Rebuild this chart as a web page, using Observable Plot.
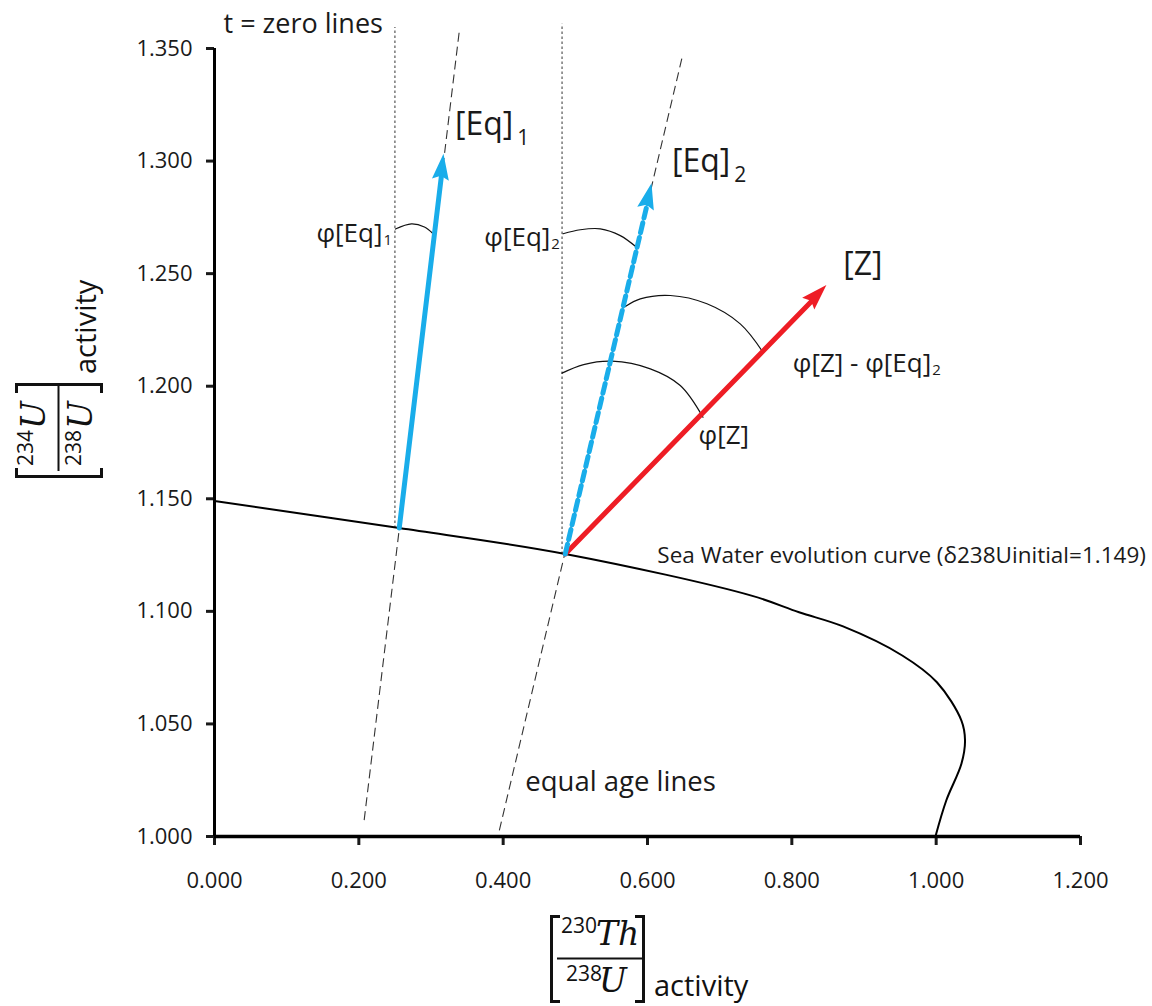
<!DOCTYPE html>
<html>
<head>
<meta charset="utf-8">
<script src="https://cdn.jsdelivr.net/npm/d3@7"></script>
<script src="https://cdn.jsdelivr.net/npm/@observablehq/plot@0.6"></script>
<style>
  body { margin: 0; background: #fff; }
  #chart { width: 1152px; height: 1006px; }
</style>
</head>
<body>
<div id="chart"></div>
<script>
// ---- tick values -------------------------------------------------------
const xTicks = [0, 0.2, 0.4, 0.6, 0.8, 1.0, 1.2];
const yTicks = [1.0, 1.05, 1.1, 1.15, 1.2, 1.25, 1.3, 1.35];

// ---- sea water evolution curve (230Th/238U, 234U/238U) ------------------
const seaX = [0, 0.256, 0.486, 0.744, 0.810, 0.871, 0.953, 1.001, 1.035, 1.040, 1.035, 1.014, 0.999];
const seaY = [1.149, 1.137, 1.1255, 1.107, 1.0996, 1.0933, 1.0804, 1.0685, 1.0515, 1.0426, 1.0323, 1.016, 1.0];

// ---- t = 0 lines (vertical, dotted) -------------------------------------
const zeroX = [0.250, 0.4816];
const zeroY1 = [1.137, 1.1255];
const zeroY2 = [1.3595, 1.361];

// ---- equal age lines (dashed) -------------------------------------------
const ageX1 = [0.2074, 0.3947];
const ageY1 = [1.0073, 1.0027];
const ageX2 = [0.3393, 0.6486];
const ageY2 = [1.358, 1.3469];

// ---- vectors [Eq]1, [Eq]2, [Z] ------------------------------------------
const arrowName = ["Eq1", "Eq2", "Z"];
const arrowX1 = [0.256, 0.486, 0.486];
const arrowY1 = [1.137, 1.1255, 1.1255];
const arrowX2 = [0.318, 0.6062, 0.8486];
const arrowY2 = [1.303, 1.2899, 1.2447];
const arrowColor = ["#19adea", "#19adea", "#ee1d25"];

// ---- angle arcs ---------------------------------------------------------
const arcEq1X = [0.2507, 0.2729, 0.2909, 0.3029];
const arcEq1Y = [1.2698, 1.2721, 1.2707, 1.2677];
const arcEq2X = [0.4830, 0.5069, 0.5346, 0.5623, 0.5845];
const arcEq2Y = [1.2677, 1.2695, 1.2699, 1.2669, 1.2618];
const arcDiffX = [0.5693, 0.5900, 0.6316, 0.6824, 0.7285, 0.7600];
const arcDiffY = [1.2354, 1.2388, 1.2403, 1.2366, 1.2277, 1.2151];
const arcZX = [0.4816, 0.5115, 0.5508, 0.6039, 0.6454, 0.6769];
const arcZY = [1.2058, 1.2096, 1.2111, 1.2077, 1.2003, 1.1862];

// ---- annotation labels --------------------------------------------------
// labels ending at a subscript: main text is end-anchored at (x, y), subscript follows
const subLabelText = ["[Eq]", "[Eq]", "φ[Eq]", "φ[Eq]", "φ[Z] - φ[Eq]"];
const subLabelSub = ["1", "2", "1", "2", "2"];
const subLabelX = [0.4141, 0.7147, 0.2327, 0.4654, 0.9931];
const subLabelY = [1.3114, 1.2951, 1.2640, 1.2625, 1.2062];
const subLabelBig = [true, true, false, false, false];

const plainText = ["[Z]", "φ[Z]", "Sea Water evolution curve (δ238Uinitial=1.149)", "equal age lines", "t = zero lines"];
const plainX = [0.8712, 0.6708, 0.6136, 0.4307, 0.0125];
const plainY = [1.2492, 1.1744, 1.1213, 1.0204, 1.3571];
const plainSize = [32, 26, 22.5, 27.5, 27];

// ---- tables built from the arrays --------------------------------------
const sea = seaX.map((x, i) => ({x, y: seaY[i]}));
const zeroLines = zeroX.map((x, i) => ({x, y1: zeroY1[i], y2: zeroY2[i]}));
const ageLines = ageX1.map((x1, i) => ({x1, y1: ageY1[i], x2: ageX2[i], y2: ageY2[i]}));
const arrows = arrowName.map((name, i) => ({
  name, x1: arrowX1[i], y1: arrowY1[i], x2: arrowX2[i], y2: arrowY2[i], color: arrowColor[i]
}));
const arcs = [
  ["Eq1", arcEq1X, arcEq1Y], ["Eq2", arcEq2X, arcEq2Y],
  ["diff", arcDiffX, arcDiffY], ["Z", arcZX, arcZY]
].flatMap(([id, xs, ys]) => xs.map((x, i) => ({id, x, y: ys[i]})));
const subLabels = subLabelText.map((text, i) => ({
  text, sub: subLabelSub[i], x: subLabelX[i], y: subLabelY[i], big: subLabelBig[i]
}));
const plainLabels = plainText.map((text, i) => ({text, x: plainX[i], y: plainY[i], size: plainSize[i]}));

const fmt = d3.format(".3f");

// filled, slightly notched arrow heads drawn at the end of each vector
function arrowHeads(index, scales) {
  const g = d3.create("svg:g").attr("aria-label", "arrow heads");
  const L = 26, W = 8.5, notch = 4;
  for (const a of arrows) {
    const x1 = scales.x(a.x1), y1 = scales.y(a.y1);
    const x2 = scales.x(a.x2), y2 = scales.y(a.y2);
    const len = Math.hypot(x2 - x1, y2 - y1);
    const ux = (x2 - x1) / len, uy = (y2 - y1) / len;
    const bx = x2 - ux * L, by = y2 - uy * L;
    g.append("path")
      .attr("d", `M${x2},${y2}L${bx - uy * W},${by + ux * W}L${bx + ux * notch},${by + uy * notch}L${bx + uy * W},${by - ux * W}Z`)
      .attr("fill", a.color);
  }
  return g.node();
}

const chart = Plot.plot({
  width: 1152,
  height: 1006,
  marginLeft: 214,
  marginRight: 72,
  marginTop: 48,
  marginBottom: 170,
  x: {domain: [0, 1.2]},
  y: {domain: [1, 1.35]},
  color: {type: "identity"},
  style: {fontFamily: "'Open Sans', sans-serif", fontSize: "22px", color: "#1a1a1a", background: "#fff", overflow: "visible"},
  marks: [
    Plot.axisX(xTicks, {tickSize: 9, tickPadding: 27, strokeWidth: 3, tickFormat: fmt, label: null}),
    Plot.axisY(yTicks, {tickSize: 8, tickPadding: 14, strokeWidth: 3, tickFormat: fmt, label: null}),
    Plot.ruleX([0], {y1: 1, y2: 1.35, strokeWidth: 3, stroke: "#000"}),
    Plot.ruleY([1], {x1: 0, x2: 1.2, strokeWidth: 3.5, stroke: "#000"}),

    // t = 0 and equal age lines
    Plot.link(zeroLines, {x1: "x", x2: "x", y1: "y1", y2: "y2", stroke: "#555", strokeWidth: 1.2, strokeDasharray: "2.5,2.5"}),
    Plot.link(ageLines, {x1: "x1", y1: "y1", x2: "x2", y2: "y2", stroke: "#333", strokeWidth: 1.1, strokeDasharray: "9,5"}),

    // sea water evolution curve
    Plot.line(sea, {x: "x", y: "y", stroke: "#000", strokeWidth: 2, curve: "catmull-rom"}),

    // angle arcs
    Plot.line(arcs, {x: "x", y: "y", z: "id", stroke: "#111", strokeWidth: 1.2, curve: "catmull-rom"}),

    // vectors
    Plot.arrow(arrows.filter(a => a.name !== "Eq2"), {
      x1: "x1", y1: "y1", x2: "x2", y2: "y2", stroke: "color", strokeWidth: 5,
      headLength: 0, insetEnd: 16
    }),
    Plot.arrow(arrows.filter(a => a.name === "Eq2"), {
      x1: "x1", y1: "y1", x2: "x2", y2: "y2", stroke: "color", strokeWidth: 5,
      strokeDasharray: "10,5", headLength: 0, insetEnd: 16
    }),
    arrowHeads,

    // labels
    Plot.text(subLabels.filter(d => d.big), {x: "x", y: "y", text: "text", textAnchor: "end", lineAnchor: "bottom", fontSize: 32}),
    Plot.text(subLabels.filter(d => d.big), {x: "x", y: "y", text: "sub", textAnchor: "start", lineAnchor: "bottom", fontSize: 21, dx: 4, dy: 10}),
    Plot.text(subLabels.filter(d => !d.big), {x: "x", y: "y", text: "text", textAnchor: "end", lineAnchor: "bottom", fontSize: 26}),
    Plot.text(subLabels.filter(d => !d.big), {x: "x", y: "y", text: "sub", textAnchor: "start", lineAnchor: "bottom", fontSize: 15, dx: 1, dy: 3}),
    Plot.text(plainLabels, {x: "x", y: "y", text: "text", textAnchor: "start", lineAnchor: "bottom", fontSize: "size"})
  ]
});

// ---- axis titles: [ iso / iso ] activity ---------------------------------
const svg = d3.select(chart);
function fractionTitle(transform, num, den) {
  const g = svg.append("g").attr("transform", transform).attr("fill", "#111").attr("text-anchor", "start");
  g.append("path").attr("d", "M12,1.5H3.5V86.5H12").attr("fill", "none").attr("stroke", "#111").attr("stroke-width", 3);
  g.append("path").attr("d", "M87,1.5H95.5V86.5H87").attr("fill", "none").attr("stroke", "#111").attr("stroke-width", 3);
  g.append("path").attr("d", "M9,43.5H94").attr("stroke", "#111").attr("stroke-width", 2);
  const rows = [[num, 30, 18], [den, 77, 66]];
  for (const [[iso, sym, uIso, uSym], base, supBase] of rows) {
    g.append("text").attr("x", uIso).attr("y", supBase).attr("font-size", 21).text(iso);
    g.append("text").attr("x", uSym).attr("y", base).attr("font-size", 33)
      .attr("font-family", "'DejaVu Serif', serif").attr("font-style", "italic").text(sym);
  }
  g.append("text").attr("x", 106).attr("y", 81).attr("font-size", 29).text("activity");
}
fractionTitle("translate(548,915)", ["230", "Th", 13, 48], ["238", "U", 18, 51]);
fractionTitle("translate(15,480) rotate(-90)", ["234", "U", 14, 51], ["238", "U", 14, 51]);

document.getElementById("chart").appendChild(chart);
</script>
</body>
</html>
